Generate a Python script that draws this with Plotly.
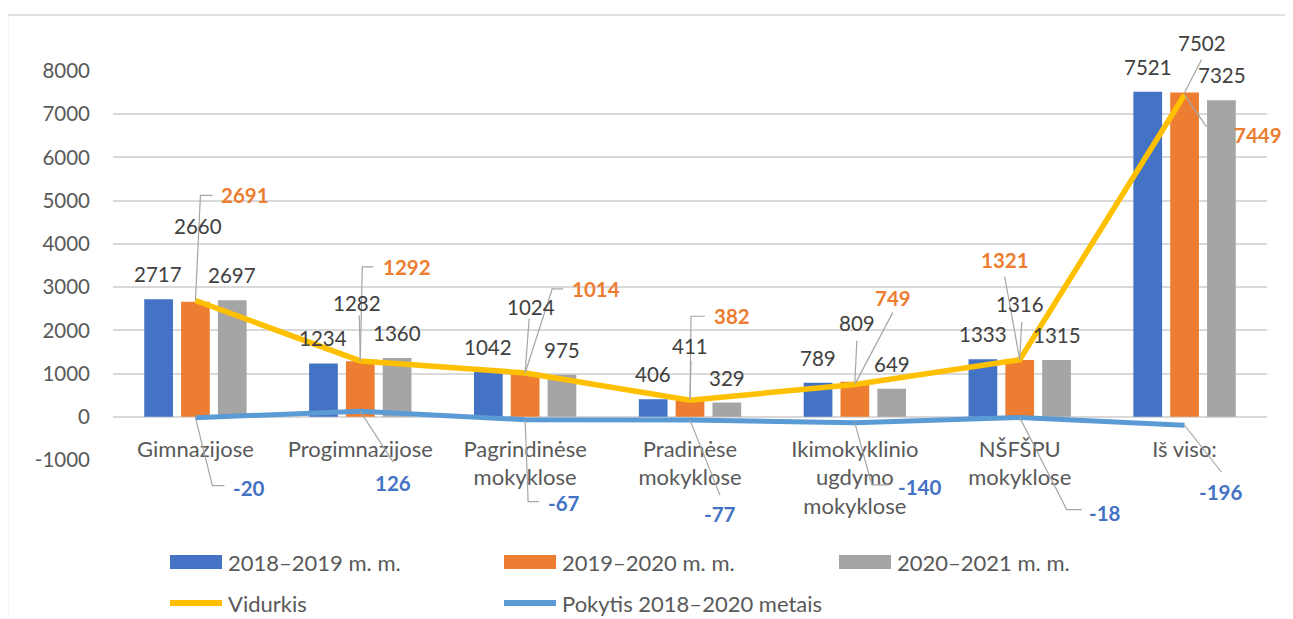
import plotly.graph_objects as go

categories = ["Gimnazijose", "Progimnazijose", "Pagrindinėse<br>mokyklose", "Pradinėse<br>mokyklose",
              "Ikimokyklinio<br>ugdymo<br>mokyklose", "NŠFŠPU<br>mokyklose", "Iš viso:"]
y2018 = [2717, 1234, 1042, 406, 789, 1333, 7521]
y2019 = [2660, 1282, 1024, 411, 809, 1316, 7502]
y2020 = [2697, 1360, 975, 329, 649, 1315, 7325]
vidurkis = [2691, 1292, 1014, 382, 749, 1321, 7449]
pokytis = [-20, 126, -67, -77, -140, -18, -196]

series_names = ["2018–2019 m. m.", "2019–2020 m. m.", "2020–2021 m. m."]
line_names = ["Vidurkis", "Pokytis 2018–2020 metais"]
ytick_vals = [-1000, 0, 1000, 2000, 3000, 4000, 5000, 6000, 7000, 8000]
ytick_text = [str(v) for v in ytick_vals]
YMIN, YMAX = -1000, 8000

BLUE, ORANGE, GRAY = "#4472C4", "#ED7D31", "#A5A5A5"
YELLOW, LBLUE = "#FFC000", "#5B9BD5"
FONT = "Lato"
TXT = "#404040"
AX = "#595959"
LEAD = "#A6A6A6"
NUM = 20.5
LBL = 22

# page has an 8px body margin; figure is shifted accordingly
OFF = 8
W, H = 1293 - OFF, 619 - OFF
L, T = 113 - OFF, 71 - OFF
PW, PH = 1154, 389
R, B = W - L - PW, H - T - PH


def xp(px):
    return (px - OFF - L) / PW


def yp(py):
    return (H - B - (py - OFF)) / PH


fig = go.Figure()
for name, vals, col in zip(series_names, [y2018, y2019, y2020], [BLUE, ORANGE, GRAY]):
    fig.add_trace(go.Bar(x=categories, y=vals, name=name, marker_color=col,
                         marker_line_width=0, showlegend=False, hoverinfo="skip"))
fig.add_trace(go.Scatter(x=categories, y=pokytis, mode="lines", name=line_names[1],
                         line=dict(color=LBLUE, width=5), showlegend=False))
fig.add_trace(go.Scatter(x=categories, y=vidurkis, mode="lines", name=line_names[0],
                         line=dict(color=YELLOW, width=5.5), showlegend=False))

ann = []
shapes = []


def label(c, v, dx, dy, text, color, leader=None):
    # dx, dy: screen-pixel offset of label centre from the data point (dy down)
    ann.append(dict(x=c, y=v, xshift=dx, yshift=-dy, text=text, showarrow=False,
                    xanchor="center", yanchor="middle",
                    font=dict(family=FONT, size=NUM, color=color)))
    if leader:
        path = "M0,0 " + " ".join("L%g,%g" % (px, -py) for px, py in leader)
        shapes.append(dict(type="path", xref="x", yref="paper", xsizemode="pixel", ysizemode="pixel",
                           xanchor=c, yanchor=(v - YMIN) / (YMAX - YMIN), path=path,
                           line=dict(color=LEAD, width=1.2), layer="above"))


# standard bar labels (blue & gray)
for vals, xs in [(y2018, -37), (y2020, 37)]:
    for c, v in zip(categories, vals):
        label(c, v, xs, -25, str(v), TXT)

orange_off = [(3, -76), (-3, -58), (6, -66), (0, -53), (2, -59), (0, -56), (17, -50)]
orange_lead = [None, [(-1, -46)], [(4, -54)], [(1, -38)], [(2, -41)], [(2, -38)], [(17, -33)]]
for c, v, (dx, dy), ld in zip(categories, y2019, orange_off, orange_lead):
    label(c, v, dx, dy, str(v), TXT, ld)

vid_off = [(50, -105), (47, -94), (71, -84), (42, -84), (38, -86), (-15, -100), (73, 40)]
vid_lead = [[(5, -105), (17, -105)], [(2, -94), (13, -94)], [(27, -84), (38, -84)],
            [(1, -84), (15, -84)], [(38, -72)], [(-15, -83)], [(22, 32)]]
for c, v, (dx, dy), ld in zip(categories, vidurkis, vid_off, vid_lead):
    label(c, v, dx, dy, "<b>%d</b>" % v, ORANGE, ld)

pok_off = [(54, 70), (33, 72), (39, 83), (30, 94), (65, 64), (85, 95), (36, 67)]
pok_lead = [[(17, 68), (29, 68)], [(33, 51)], [(3, 82), (14, 82)], [(30, 75)],
            [(17, 62), (34, 62)], [(47, 92), (62, 92)], [(37, 47)]]
for c, v, (dx, dy), ld in zip(categories, pokytis, pok_off, pok_lead):
    label(c, v, dx, dy, "<b>%d</b>" % v, BLUE, ld)

# manual legend
rows = [
    [(series_names[0], BLUE, "bar", 170), (series_names[1], ORANGE, "bar", 504), (series_names[2], GRAY, "bar", 839)],
    [(line_names[0], YELLOW, "line", 170), (line_names[1], LBLUE, "line", 504)],
]
for ry, row in zip([562, 603], rows):
    for name, col, kind, x0 in row:
        if kind == "bar":
            shapes.append(dict(type="rect", xref="paper", yref="paper", x0=xp(x0), x1=xp(x0 + 52),
                               y0=yp(ry + 7), y1=yp(ry - 7), fillcolor=col, line_width=0, layer="above"))
        else:
            shapes.append(dict(type="line", xref="paper", yref="paper", x0=xp(x0), x1=xp(x0 + 52),
                               y0=yp(ry), y1=yp(ry), line=dict(color=col, width=6), layer="above"))
        ann.append(dict(xref="paper", yref="paper", x=xp(x0 + 56), y=yp(ry), text=name,
                        showarrow=False, xanchor="left", yanchor="middle",
                        font=dict(family=FONT, size=LBL, color=AX)))

# chart border
shapes.append(dict(type="rect", xref="paper", yref="paper", x0=xp(7.5), x1=xp(1320), y0=yp(680), y1=yp(15),
                   line=dict(color="#D9D9D9", width=1.5), fillcolor="rgba(0,0,0,0)", layer="below"))

fig.update_layout(
    width=W, height=H,
    margin=dict(l=L, r=R, t=T, b=B, pad=0, autoexpand=False),
    paper_bgcolor="white", plot_bgcolor="white",
    barmode="group", bargap=0.33, bargroupgap=0.22,
    showlegend=False,
    annotations=ann, shapes=shapes,
    font=dict(family=FONT, size=LBL, color=AX),
    xaxis=dict(anchor="free", position=1 / 9, range=[-0.5, len(categories) - 0.5],
               showgrid=False, showline=False, zeroline=False, automargin=False,
               ticks="", tickfont=dict(family=FONT, size=LBL, color=AX), ticklabelstandoff=17,
               fixedrange=True),
    yaxis=dict(range=[YMIN, YMAX], tickvals=ytick_vals, ticktext=ytick_text, showgrid=True,
               gridcolor="#D9D9D9", gridwidth=1.5, zeroline=True, zerolinecolor="#D9D9D9",
               zerolinewidth=1.5, showline=False, ticks="", automargin=False,
               tickfont=dict(family=FONT, size=NUM, color=AX),
               ticklabelstandoff=22, fixedrange=True),
)

fig.write_html("out.html")
